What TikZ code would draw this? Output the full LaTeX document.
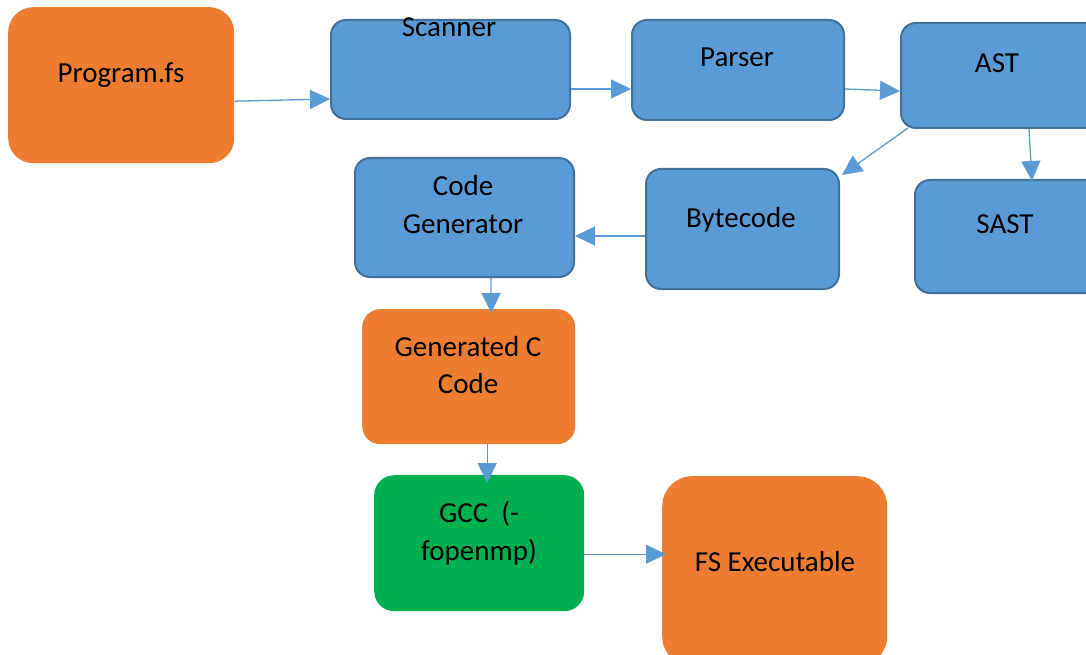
\documentclass[tikz,border=0pt]{standalone}
\usepackage{fontspec}
\setmainfont{Carlito}
\usetikzlibrary{arrows.meta}
\definecolor{boxblue}{HTML}{5B9BD5}
\definecolor{boxedge}{HTML}{41719C}
\definecolor{boxorange}{HTML}{ED7D31}
\definecolor{boxgreen}{HTML}{00B050}
\begin{document}
\begin{tikzpicture}[x=1pt,y=-1pt,
  box/.style={rectangle, anchor=north west, inner sep=0pt},
  bluebox/.style={box, fill=boxblue, draw=boxedge, line width=2pt, rounded corners=15pt},
  orangebox/.style={box, fill=boxorange, rounded corners=#1},
  greenbox/.style={box, fill=boxgreen, rounded corners=#1},
  lbl/.style={anchor=base, inner sep=0pt, text=black, font=\fontsize{29}{34}\selectfont},
  conn/.style={draw=boxblue, line width=1.3pt, -{Triangle[length=20pt,width=19pt]}}]
\path[use as bounding box, clip] (0,0) rectangle (1086,655);

% boxes
\node[orangebox=25pt, minimum width=226pt, minimum height=156pt] (prog) at (8,7) {};
\node[bluebox, minimum width=239pt, minimum height=99pt] (scanner) at (330,19) {};
\node[bluebox, minimum width=212pt, minimum height=100pt] (parser) at (631,19) {};
\node[bluebox, minimum width=200pt, minimum height=105pt] (ast) at (900,22) {};
\node[bluebox, minimum width=190pt, minimum height=113pt] (sast) at (914,179) {};
\node[bluebox, minimum width=193pt, minimum height=120pt] (bytecode) at (645,168) {};
\node[bluebox, minimum width=219pt, minimum height=119pt] (codegen) at (354,157) {};
\node[orangebox=18pt, minimum width=213pt, minimum height=135pt] (genc) at (362,309) {};
\node[greenbox=20pt, minimum width=210pt, minimum height=136pt] (gcc) at (374,475) {};
\node[orangebox=30pt, minimum width=225pt, minimum height=190pt] (fsexe) at (662,476) {};

% labels
\node[lbl] (tprog) at (121,83) {Program.fs};
\node[lbl] (tscanner) at (449,37) {Scanner};
\node[lbl] (tparser) at (737,67) {Parser};
\node[lbl] (tast) at (997,73) {AST};
\node[lbl] (tsast) at (1005,233) {SAST};
\node[lbl] (tbytecode) at (741,227) {Bytecode};
\node[lbl] (tcg1) at (463,195) {Code};
\node[lbl] (tcg2) at (463,233) {Generator};
\node[lbl] (tgc1) at (468,356) {Generated C};
\node[lbl] (tgc2) at (468,393) {Code};
\node[lbl] (tgcc1) at (479,522) {GCC~~(-};
\node[lbl] (tgcc2) at (479,560) {fopenmp)};
\node[lbl] (tfs) at (775,571) {FS Executable};

% connectors
\draw[conn] ([yshift=-16pt]prog.east) -- ([yshift=-29.5pt]scanner.west);
\draw[conn] ([yshift=-19.5pt]scanner.east) -- ([yshift=-19pt]parser.west);
\draw[conn] ([yshift=-19pt]parser.east) -- ([yshift=-15.5pt]ast.west);
\draw[conn] ([xshift=8pt,yshift=1pt]ast.south west) -- ([xshift=2pt,yshift=-7pt]bytecode.north east);
\draw[conn] ([xshift=129pt]ast.south west) -- ([xshift=118pt,yshift=-2pt]sast.north west);
\draw[conn] ([yshift=-7pt]bytecode.west) -- ([yshift=-18.5pt]codegen.east);
\draw[conn] ([xshift=26.5pt]codegen.south) -- ([xshift=22.5pt,yshift=-4pt]genc.north);
\draw[conn] ([xshift=18.5pt]genc.south) -- ([xshift=8pt,yshift=-8pt]gcc.north);
\draw[conn] ([yshift=-11pt]gcc.east) -- ([xshift=4pt,yshift=17pt]fsexe.west);
\end{tikzpicture}
\end{document}
